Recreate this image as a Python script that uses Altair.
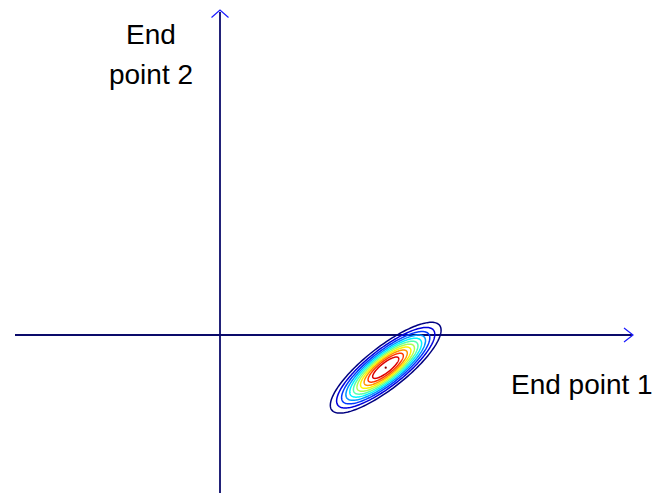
import numpy as np
import pandas as pd
import altair as alt

# ---- data ----
center = [1.657, -0.327]          # mean of the distribution (End point 1, End point 2)
sigma_major = 0.352               # std along the major axis
sigma_minor = 0.106               # std along the minor axis
angle_deg = 38.2                  # orientation of the major axis
levels = [0.15, 0.225, 0.3, 0.375, 0.45, 0.525, 0.6, 0.675, 0.75, 0.825, 0.9]  # density / max
level_colors = ["#000080", "#0000dc", "#003aff", "#0097ff", "#00f3ff", "#51ffae",
                "#aeff51", "#fff300", "#ff9700", "#ff3a00", "#dc0000"]
peak_color = "#800000"

x_axis_extent = [-2.05, 4.13]
y_axis_extent = [-1.58, 3.25]
x_label = "End point 1"
y_label = ["End", "point 2"]

# ---- contour lines of the bivariate normal ----
th = np.deg2rad(angle_deg)
phi = np.linspace(0, 2 * np.pi, 181)
rows = []
for k, lv in enumerate(levels):
    r = np.sqrt(-2 * np.log(lv))
    u = r * sigma_major * np.cos(phi)
    v = r * sigma_minor * np.sin(phi)
    px = center[0] + u * np.cos(th) - v * np.sin(th)
    py = center[1] + u * np.sin(th) + v * np.cos(th)
    for i in range(len(phi)):
        rows.append({"x": float(px[i]), "y": float(py[i]), "level": k, "i": i})
contours = pd.DataFrame(rows)

xs = alt.Scale(domain=[-2.12, 4.33], nice=False, zero=False)
ys = alt.Scale(domain=[-1.60, 3.27], nice=False, zero=False)


def X(f="x"):
    return alt.X(f + ":Q", scale=xs, axis=None)


def Y(f="y"):
    return alt.Y(f + ":Q", scale=ys, axis=None)


lines = alt.Chart(contours).mark_line(strokeWidth=1.5).encode(
    x=X(), y=Y(),
    detail="level:N",
    order="i:Q",
    color=alt.Color("level:O", scale=alt.Scale(domain=list(range(len(levels))), range=level_colors), legend=None),
)

peak = alt.Chart(pd.DataFrame({"x": [center[0]], "y": [center[1]]})).mark_point(
    filled=True, size=5, color=peak_color, opacity=1
).encode(x=X(), y=Y())

# ---- axis lines with arrowheads ----
axes_df = pd.DataFrame({
    "x": [x_axis_extent[0], 0.0],
    "x2": [x_axis_extent[1] - 0.01, 0.0],
    "y": [0.0, y_axis_extent[0]],
    "y2": [0.0, y_axis_extent[1] - 0.02],
})
axis_lines = alt.Chart(axes_df).mark_rule(color="#0a0a6a", strokeWidth=1.8).encode(
    x=X(), x2="x2:Q", y=Y(), y2="y2:Q"
)

xe, ye = x_axis_extent[1], y_axis_extent[1]
arrow_rows = [
    {"g": "h", "i": 0, "x": xe - 0.09, "y": 0.07},
    {"g": "h", "i": 1, "x": xe, "y": 0.0},
    {"g": "h", "i": 2, "x": xe - 0.09, "y": -0.07},
    {"g": "v", "i": 0, "x": -0.085, "y": ye - 0.075},
    {"g": "v", "i": 1, "x": 0.0, "y": ye},
    {"g": "v", "i": 2, "x": 0.085, "y": ye - 0.075},
]
arrows = alt.Chart(pd.DataFrame(arrow_rows)).mark_line(color="#1a1aff", strokeWidth=1.2).encode(
    x=X(), y=Y(), detail="g:N", order="i:Q"
)

# ---- labels ----
lab1 = alt.Chart(pd.DataFrame({"x": [2.91], "y": [-0.59], "t": [x_label]})).mark_text(
    align="left", baseline="alphabetic", fontSize=28, font="Liberation Sans", color="black"
).encode(x=X(), y=Y(), text="t:N")

lab2 = alt.Chart(pd.DataFrame({"x": [-0.69], "y": [2.91], "t": ["|".join(y_label)]})).mark_text(
    align="center", baseline="alphabetic", fontSize=28, font="Liberation Sans", color="black",
    lineBreak="|", lineHeight=40
).encode(x=X(), y=Y(), text="t:N")

chart = alt.layer(axis_lines, arrows, lines, peak, lab1, lab2).properties(
    width=645, height=487, padding=0, autosize=alt.AutoSizeParams(type="none")
).configure_view(stroke=None)

chart.save("out.html", embed_options={"renderer": "svg", "actions": False})
